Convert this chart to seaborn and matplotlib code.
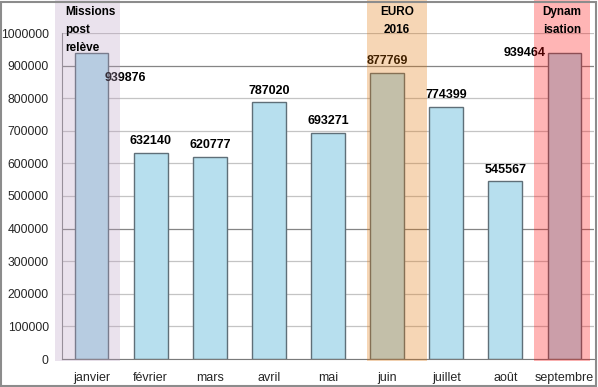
import matplotlib
matplotlib.use("Agg")
import matplotlib.pyplot as plt
import matplotlib.patches as mpatches
import seaborn as sns

mois = ["janvier", "février", "mars", "avril", "mai", "juin", "juillet", "août", "septembre"]
valeurs = [939876, 632140, 620777, 787020, 693271, 877769, 774399, 545567, 939464]
yticks = list(range(0, 1000001, 100000))

# zones mises en avant : (texte, mois, couleur)
zones = [("Missions\npost\nrelève", "janvier", (0.73, 0.62, 0.76)),
         ("EURO\n2016", "juin", (0.89, 0.45, 0.0)),
         ("Dynam\nisation", "septembre", (1.0, 0.0, 0.0))]

sns.set_style("white")
plt.rcParams['font.family'] = ['Liberation Sans', 'DejaVu Sans']

fig = plt.figure(figsize=(5.98, 3.87), dpi=100)
ax = fig.add_axes([62 / 598, 28 / 387, 532 / 598, 326 / 387])

sns.barplot(x=mois, y=valeurs, color="#b7dfee", saturation=1, width=0.57,
            edgecolor="#5f6f78", linewidth=1, ax=ax, zorder=2)

ax.set_xlim(-0.5, 8.5)
ax.set_ylim(0, 1000000)
ax.set_yticks(yticks)
ax.set_yticklabels([str(t) for t in yticks], fontsize=8.7)
ax.tick_params(axis='x', labelsize=9, pad=6)
ax.tick_params(axis='y', pad=6)
ax.set_xlabel("")
ax.set_ylabel("")

ax.yaxis.grid(True, color="#c4c4c4", linewidth=0.9, zorder=0)
for t, gl in zip(yticks, ax.get_ygridlines()):
    if t in (400000, 900000):
        gl.set_color("#858585")
ax.set_axisbelow(True)

for s in ["top", "right"]:
    ax.spines[s].set_visible(False)
ax.spines["left"].set_color("#8a8a8a")
ax.spines["bottom"].set_color("#7a7a7a")

# étiquettes de valeurs
for i, v in enumerate(valeurs):
    if i == 0:
        off, ha, va = (24, -18), 'center', 'center'
    elif i == len(valeurs) - 1:
        off, ha, va = (-29, 0), 'center', 'center'
    else:
        off, ha, va = (0, 4), 'center', 'bottom'
    ax.annotate(str(v), (i, v), xytext=off, textcoords='offset points',
                ha=ha, va=va, fontsize=9, fontweight='bold', color='black', zorder=4)

# zones colorées par-dessus
bornes = {"janvier": (-0.62, 0.48), "juin": (4.66, 5.68), "septembre": (7.49, 8.43)}
for texte, m, c in zones:
    x0, x1 = bornes[m]
    rect = mpatches.Rectangle((x0, -6000), x1 - x0, 1110000, facecolor=c, alpha=0.29,
                              edgecolor='none', zorder=5, clip_on=False)
    ax.add_patch(rect)
    if m == "janvier":
        ax.text(x0 + 0.17, 1083000, texte, ha='left', va='top', fontsize=8.5,
                fontweight='bold', linespacing=1.65, color='black', zorder=6)
    else:
        ax.text((x0 + x1) / 2, 1083000, texte, ha='center', va='top', fontsize=8.5,
                fontweight='bold', linespacing=1.65, color='black', zorder=6)

fig.patches.append(mpatches.Rectangle((0.002, 0.003), 0.995, 0.993, transform=fig.transFigure,
                                      fill=False, edgecolor="#8c8c8c", linewidth=1.5))

fig.savefig("out.png", dpi=100)
